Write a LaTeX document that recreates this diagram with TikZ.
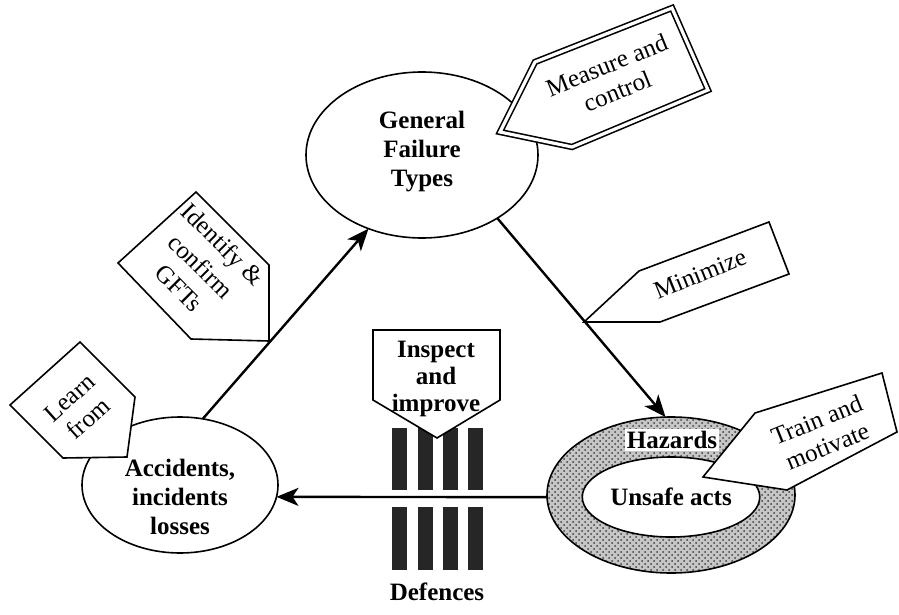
\documentclass[tikz,border=0pt]{standalone}
\usepackage{fontspec}
\setmainfont{Liberation Serif}
\usetikzlibrary{shapes.geometric, arrows.meta, patterns}
\tikzstyle{blob}=[ellipse, draw, thick, inner sep=0pt, outer sep=0pt]
\tikzstyle{lbl}=[align=center, font=\fontsize{12.5}{14.5}\selectfont\bfseries, inner sep=1pt]
\tikzstyle{tag}=[draw, thick, fill=white, line join=miter]
\tikzstyle{tagtxt}=[align=center, font=\fontsize{12.5}{14}\selectfont, inner sep=0pt]
\tikzstyle{flow}=[very thick, -{Stealth[length=11pt, width=9pt, inset=3pt]}]
\tikzstyle{bar}=[fill=black!85]

\begin{document}
\begin{tikzpicture}[x=0.5pt, y=-0.5pt]
            \useasboundingbox (0,0) rectangle (899,615);
            % ellipses
            \node[blob, minimum width=116pt, minimum height=83pt] (gft) at (422,155) {};
            \node[lbl] (gftt) at (422,152) {General\\Failure\\Types};
            \node[blob, minimum width=98pt, minimum height=68pt] (acc) at (180,485) {};
            \node[lbl] (acct) at (180,497) {Accidents,\\incidents\\losses};
            \node[blob, minimum width=124pt, minimum height=78pt, preaction={fill=gray!45},
                pattern=crosshatch dots, pattern color=black!75] (haz) at (671,495) {};
            \node[blob, lbl, draw, thick, fill=white, minimum width=69pt, minimum height=40pt] (ua) at (671,497) {Unsafe acts};
            \node[lbl, fill=white] (hz) at (672,440) {Hazards};
            % flows
            \draw[flow] (acc.71) -- (gft.234);
            \draw[flow] (gft.320) -- (haz.94);
            \draw[flow] (haz.181) -- (acc.-7);
            % defences
            \foreach \bx in {392,417.5,443,468} {
                \fill[bar] (\bx,428) rectangle ++(15,62);
                \fill[bar] (\bx,507) rectangle ++(15,63);
            }
            \node[lbl] (def) at (437,592) {Defences};
            % tags
            \draw[tag] (373,330) -- (500,330) -- (500,400) -- (437,438) -- (373,400) -- cycle;
            \node[tagtxt, font=\fontsize{12.5}{13.5}\selectfont\bfseries] (insp) at (436,379) {Inspect\\and\\improve};
            \draw[tag] (196,192) -- (269,265) -- (269,341) -- (191,339) -- (118,263) -- cycle;
            \node[tagtxt, rotate=-45, font=\fontsize{12.5}{15.5}\selectfont] (ident) at (201,266) {Identify \&\\confirm\\GFTs};
            \draw[tag] (80,342) -- (135,397) -- (127,457) -- (63,458) -- (10,405) -- cycle;
            \node[tagtxt, rotate=42] (learn) at (79,408) {Learn\\from};
            \draw[tag, double=white, double distance=1.6pt] (500,132) -- (535,62) -- (672,8) -- (708,90) -- (572,147) -- cycle;
            \node[tagtxt, rotate=22] (meas) at (612,78) {Measure and\\control};
            \draw[tag] (584,322) -- (639,271) -- (769,222) -- (789,274) -- (660,322) -- cycle;
            \node[tagtxt, rotate=22] (mini) at (700,274) {Minimize};
            \draw[tag] (703,477) -- (755,413) -- (882,373) -- (897,432) -- (787,490) -- cycle;
            \node[tagtxt, rotate=22] (train) at (822,433) {Train and\\motivate};
        \end{tikzpicture}
\end{document}
